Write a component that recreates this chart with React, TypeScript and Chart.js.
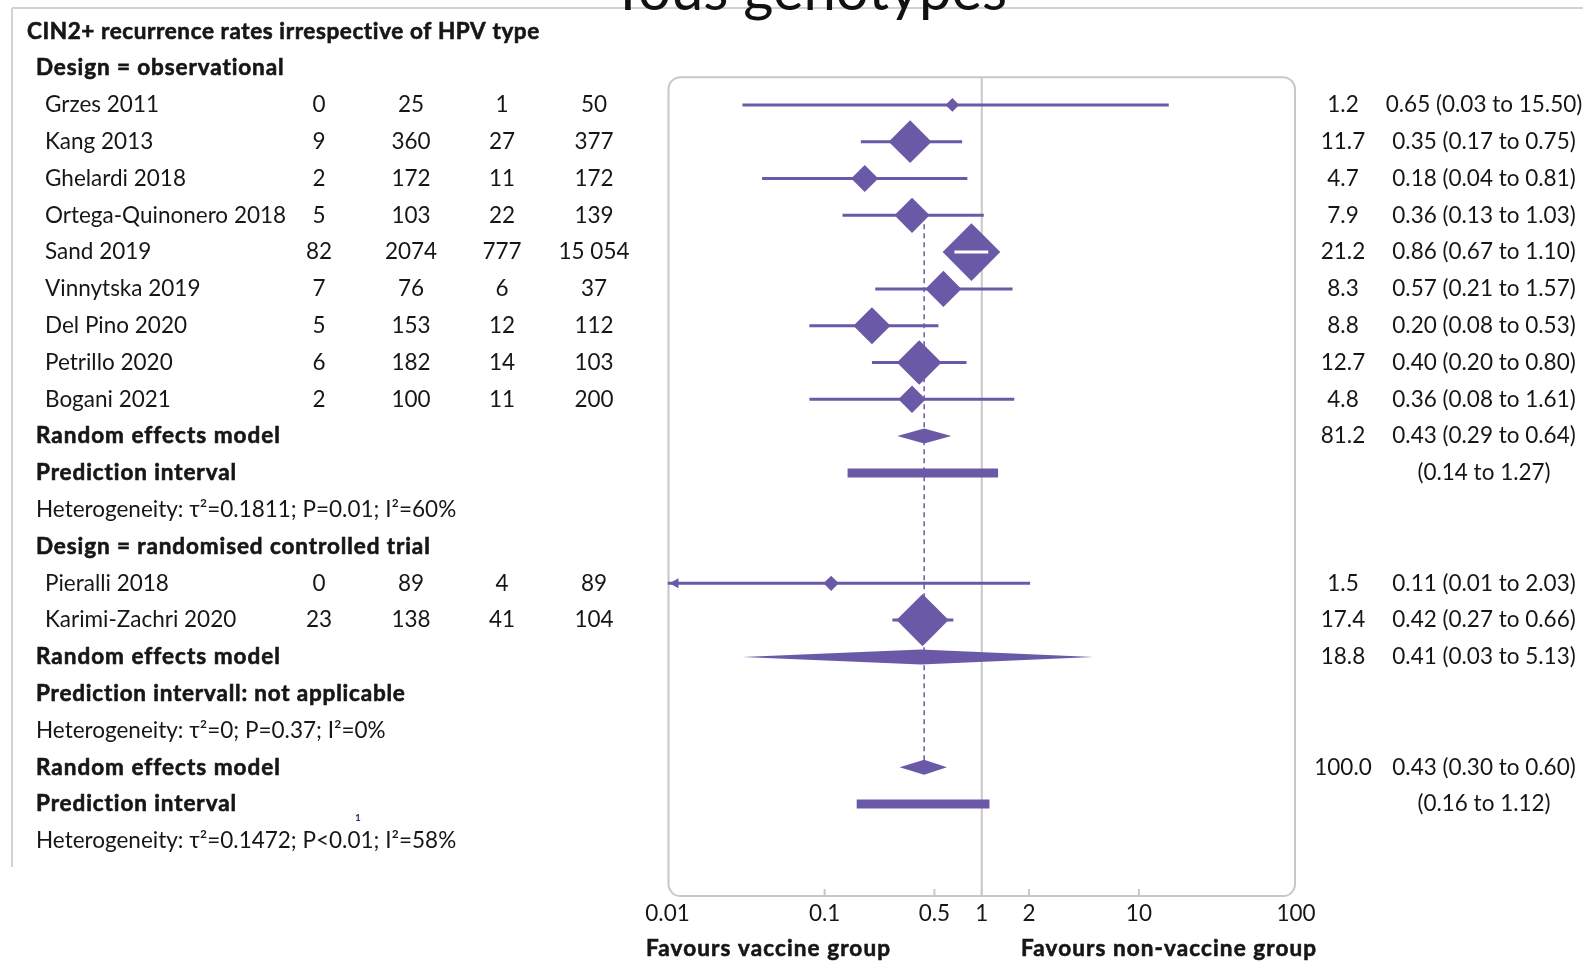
import React, { useEffect, useRef } from "react";
import { Chart, registerables } from "chart.js";

Chart.register(...registerables);

const W = 1583;
const H = 969;

// ---------- text / data ----------
const SLIDE_TITLE = "Tous génotypes";
const PANEL_TITLE = "CIN2+ recurrence rates irrespective of HPV type";
const obsHeader = "Design = observational";
const rctHeader = "Design = randomised controlled trial";
const pooledLabel = "Random effects model";
const piLabel = "Prediction interval";
const rctPILabel = "Prediction intervall: not applicable";

const obsStudies = [
  "Grzes 2011",
  "Kang 2013",
  "Ghelardi 2018",
  "Ortega-Quinonero 2018",
  "Sand 2019",
  "Vinnytska 2019",
  "Del Pino 2020",
  "Petrillo 2020",
  "Bogani 2021",
];
const obsEvVac = [0, 9, 2, 5, 82, 7, 5, 6, 2];
const obsNVac = [25, 360, 172, 103, 2074, 76, 153, 182, 100];
const obsEvNon = [1, 27, 11, 22, 777, 6, 12, 14, 11];
const obsNNon = [50, 377, 172, 139, 15054, 37, 112, 103, 200];
const obsWeight = [1.2, 11.7, 4.7, 7.9, 21.2, 8.3, 8.8, 12.7, 4.8];
const obsRR = [0.65, 0.35, 0.18, 0.36, 0.86, 0.57, 0.2, 0.4, 0.36];
const obsLo = [0.03, 0.17, 0.04, 0.13, 0.67, 0.21, 0.08, 0.2, 0.08];
const obsHi = [15.5, 0.75, 0.81, 1.03, 1.1, 1.57, 0.53, 0.8, 1.61];

const obsPooled = [0.43, 0.29, 0.64];
const obsPooledWeight = 81.2;
const obsPI = [0.14, 1.27];
const obsHet = "Heterogeneity: τ²=0.1811; P=0.01; I²=60%";

const rctStudies = ["Pieralli 2018", "Karimi-Zachri 2020"];
const rctEvVac = [0, 23];
const rctNVac = [89, 138];
const rctEvNon = [4, 41];
const rctNNon = [89, 104];
const rctWeight = [1.5, 17.4];
const rctRR = [0.11, 0.42];
const rctLo = [0.01, 0.27];
const rctHi = [2.03, 0.66];

const rctPooled = [0.41, 0.03, 5.13];
const rctPooledWeight = 18.8;
const rctHet = "Heterogeneity: τ²=0; P=0.37; I²=0%";

const allPooled = [0.43, 0.3, 0.6];
const allPooledWeight = 100.0;
const allPI = [0.16, 1.12];
const allHet = "Heterogeneity: τ²=0.1472; P<0.01; I²=58%";

const dashedFromStudy = "Ortega-Quinonero 2018";

const xTicks = [0.01, 0.1, 0.5, 1, 2, 10, 100];
const xTickLabels = ["0.01", "0.1", "0.5", "1", "2", "10", "100"];
const leftAxisLabel = "Favours vaccine group";
const rightAxisLabel = "Favours non-vaccine group";

// ---------- styles ----------
const PURPLE = "#6a59a7";
const TEXT = "#161616";
const GREY = "#c8c8c8";
const FONT = "Lato";
const FS = 22.5;

// ---------- build rows ----------
type Row = {
  kind: "title" | "header" | "study" | "pooled" | "pi" | "het" | "note";
  label: string;
  ev1?: number;
  n1?: number;
  ev2?: number;
  n2?: number;
  w?: number;
  est?: number;
  lo?: number;
  hi?: number;
};

const rows: Row[] = [];
rows.push({ kind: "title", label: PANEL_TITLE });
rows.push({ kind: "header", label: obsHeader });
obsStudies.forEach((s, i) =>
  rows.push({
    kind: "study",
    label: s,
    ev1: obsEvVac[i],
    n1: obsNVac[i],
    ev2: obsEvNon[i],
    n2: obsNNon[i],
    w: obsWeight[i],
    est: obsRR[i],
    lo: obsLo[i],
    hi: obsHi[i],
  })
);
rows.push({ kind: "pooled", label: pooledLabel, w: obsPooledWeight, est: obsPooled[0], lo: obsPooled[1], hi: obsPooled[2] });
rows.push({ kind: "pi", label: piLabel, lo: obsPI[0], hi: obsPI[1] });
rows.push({ kind: "het", label: obsHet });
rows.push({ kind: "header", label: rctHeader });
rctStudies.forEach((s, i) =>
  rows.push({
    kind: "study",
    label: s,
    ev1: rctEvVac[i],
    n1: rctNVac[i],
    ev2: rctEvNon[i],
    n2: rctNNon[i],
    w: rctWeight[i],
    est: rctRR[i],
    lo: rctLo[i],
    hi: rctHi[i],
  })
);
rows.push({ kind: "pooled", label: pooledLabel, w: rctPooledWeight, est: rctPooled[0], lo: rctPooled[1], hi: rctPooled[2] });
rows.push({ kind: "note", label: rctPILabel });
rows.push({ kind: "het", label: rctHet });
rows.push({ kind: "pooled", label: pooledLabel, w: allPooledWeight, est: allPooled[0], lo: allPooled[1], hi: allPooled[2] });
rows.push({ kind: "pi", label: piLabel, lo: allPI[0], hi: allPI[1] });
rows.push({ kind: "het", label: allHet });

const Y_MIN = 1.25;
const Y_MAX = 23.5;
const X_MIN = 0.01;
const X_MAX = 100;

const studyRows = rows.map((r, i) => ({ r, i })).filter((o) => o.r.kind === "study");
const pooledRows = rows.map((r, i) => ({ r, i })).filter((o) => o.r.kind === "pooled");
const piRows = rows.map((r, i) => ({ r, i })).filter((o) => o.r.kind === "pi");
const dashedStart = rows.findIndex((r) => r.label === dashedFromStudy);
const dashedEnd = rows.length - 3;

const radiusFor = (w: number) => 6.26 * Math.sqrt(w);

const fmtN = (n: number) => (n >= 10000 ? String(n).replace(/(\d)(?=(\d{3})+$)/g, "$1 ") : String(n));
const fmtCI = (r: Row) =>
  r.est !== undefined
    ? `${r.est.toFixed(2)} (${r.lo!.toFixed(2)} to ${r.hi!.toFixed(2)})`
    : `(${r.lo!.toFixed(2)} to ${r.hi!.toFixed(2)})`;

function text(
  ctx: CanvasRenderingContext2D,
  s: string,
  x: number,
  y: number,
  align: CanvasTextAlign,
  bold = false,
  size = FS,
  color = TEXT,
  spacing = 0.9
) {
  ctx.font = `${bold ? "bold " : ""}${size}px ${FONT}`;
  ctx.fillStyle = color;
  ctx.textAlign = align;
  ctx.textBaseline = "middle";
  (ctx as any).letterSpacing = bold && size > 15 ? `${spacing}px` : "0px";
  ctx.fillText(s, x, y);
  if (bold && size > 15) {
    ctx.strokeStyle = color;
    ctx.lineWidth = 0.6;
    ctx.strokeText(s, x, y);
  }
  (ctx as any).letterSpacing = "0px";
}

const forestPlugin = {
  id: "forest",
  beforeDraw(chart: any) {
    const ctx: CanvasRenderingContext2D = chart.ctx;
    ctx.save();
    ctx.fillStyle = "#ffffff";
    ctx.fillRect(0, 0, chart.width, chart.height);
    // slide frame lines
    ctx.strokeStyle = "#d2d2d2";
    ctx.lineWidth = 2;
    ctx.beginPath();
    ctx.moveTo(12, 8);
    ctx.lineTo(chart.width, 8);
    ctx.moveTo(12, 8);
    ctx.lineTo(12, 867);
    ctx.stroke();
    // slide title (cut off at top)
    ctx.font = `58px ${FONT}`;
    ctx.fillStyle = "#111";
    ctx.textAlign = "center";
    ctx.textBaseline = "alphabetic";
    ctx.fillText(SLIDE_TITLE, 809, 10);
    // rounded plot box
    const a = chart.chartArea;
    const rad = 12;
    ctx.strokeStyle = GREY;
    ctx.lineWidth = 2;
    ctx.beginPath();
    ctx.roundRect(a.left + 1, a.top, a.right - a.left - 2, a.bottom - a.top, rad);
    ctx.stroke();
    // tick marks inside bottom border
    const xs = chart.scales.x;
    ctx.beginPath();
    xTicks.forEach((v) => {
      if (v === X_MIN || v === X_MAX) return;
      const px = xs.getPixelForValue(v);
      ctx.moveTo(px, a.bottom);
      ctx.lineTo(px, a.bottom - 7);
    });
    ctx.stroke();
    ctx.restore();
  },
  afterDatasetsDraw(chart: any) {
    const ctx: CanvasRenderingContext2D = chart.ctx;
    const xs = chart.scales.x;
    const ys = chart.scales.y;
    ctx.save();
    // pooled diamonds
    ctx.fillStyle = PURPLE;
    pooledRows.forEach(({ r, i }) => {
      const y = ys.getPixelForValue(i);
      const xl = xs.getPixelForValue(r.lo);
      const xe = xs.getPixelForValue(r.est);
      const xh = xs.getPixelForValue(r.hi);
      const h = 7.5;
      ctx.beginPath();
      ctx.moveTo(xl, y);
      ctx.lineTo(xe, y - h);
      ctx.lineTo(xh, y);
      ctx.lineTo(xe, y + h);
      ctx.closePath();
      ctx.fill();
    });
    // white CI inside boxes and arrows for clipped CIs
    studyRows.forEach(({ r, i }) => {
      const y = ys.getPixelForValue(i);
      const xl = xs.getPixelForValue(r.lo);
      const xe = xs.getPixelForValue(r.est);
      const xh = xs.getPixelForValue(r.hi);
      const rr = radiusFor(r.w!);
      if (xe - xl < rr * 0.9 && xh - xe < rr * 0.9) {
        ctx.strokeStyle = "#ffffff";
        ctx.lineWidth = 3;
        ctx.beginPath();
        ctx.moveTo(xl, y);
        ctx.lineTo(xh, y);
        ctx.stroke();
      }
      if (r.lo! <= X_MIN) {
        ctx.fillStyle = PURPLE;
        ctx.beginPath();
        ctx.moveTo(xl + 2, y);
        ctx.lineTo(xl + 11, y - 5);
        ctx.lineTo(xl + 11, y + 5);
        ctx.closePath();
        ctx.fill();
      }
    });
    ctx.restore();
  },
  afterDraw(chart: any) {
    const ctx: CanvasRenderingContext2D = chart.ctx;
    const ys = chart.scales.y;
    ctx.save();
    rows.forEach((r, i) => {
      const y = ys.getPixelForValue(i);
      switch (r.kind) {
        case "title":
          text(ctx, r.label, 27, y, "left", true, FS, TEXT, 0.6);
          break;
        case "header":
          text(ctx, r.label, 36, y, "left", true);
          break;
        case "study":
          text(ctx, r.label, 45, y, "left");
          text(ctx, fmtN(r.ev1!), 319, y, "center");
          text(ctx, fmtN(r.n1!), 411, y, "center");
          text(ctx, fmtN(r.ev2!), 502, y, "center");
          text(ctx, fmtN(r.n2!), 594, y, "center");
          text(ctx, r.w!.toFixed(1), 1343, y, "center");
          text(ctx, fmtCI(r), 1484, y, "center");
          break;
        case "pooled":
          text(ctx, r.label, 36, y, "left", true, FS, TEXT, 1.0);
          text(ctx, r.w!.toFixed(1), 1343, y, "center");
          text(ctx, fmtCI(r), 1484, y, "center");
          break;
        case "pi":
          text(ctx, r.label, 36, y, "left", true);
          text(ctx, fmtCI(r), 1484, y, "center");
          break;
        case "note":
          text(ctx, r.label, 36, y, "left", true, FS, TEXT, 0.8);
          break;
        case "het":
          text(ctx, r.label, 36, y, "left");
          break;
      }
    });
    // small footnote mark
    text(ctx, "1", 358, 818, "center", true, 10, "#1f3a6e");
    // axis titles
    const yb = chart.chartArea.bottom + 53;
    text(ctx, leftAxisLabel, 646, yb, "left", true, FS, TEXT, 1.1);
    text(ctx, rightAxisLabel, 1021, yb, "left", true, FS, TEXT, 1.1);
    ctx.restore();
  },
};

export default function App() {
  const ref = useRef<HTMLCanvasElement>(null);
  useEffect(() => {
    const canvas = ref.current!;
    Chart.defaults.font.family = FONT;

    const whiskerSets = studyRows.map(({ r, i }) => ({
      type: "line",
      label: "CI " + r.label,
      data: [
        { x: r.lo, y: i },
        { x: r.hi, y: i },
      ],
      borderColor: PURPLE,
      borderWidth: 3,
      borderCapStyle: "butt",
      pointRadius: 0,
      order: 9,
    }));
    const piSets = piRows.map(({ r, i }) => ({
      type: "line",
      label: "PI " + i,
      data: [
        { x: r.lo, y: i },
        { x: r.hi, y: i },
      ],
      borderColor: PURPLE,
      borderWidth: 9,
      borderCapStyle: "butt",
      pointRadius: 0,
      order: 7,
    }));
    const pointData = studyRows.map(({ r, i }) => ({ x: r.est, y: i }));
    const pointWeights = studyRows.map(({ r }) => r.w!);

    const chart = new Chart(canvas, {
      type: "scatter",
      data: {
        datasets: [
          {
            type: "scatter",
            label: "Studies",
            data: pointData,
            pointStyle: "rectRot",
            pointRadius: (c: any) => radiusFor(pointWeights[c.dataIndex] ?? 1),
            backgroundColor: PURPLE,
            borderWidth: 0,
            order: 5,
          } as any,
          ...(piSets as any[]),
          {
            type: "line",
            label: "Overall",
            data: [
              { x: allPooled[0], y: dashedStart },
              { x: allPooled[0], y: dashedEnd },
            ],
            borderColor: PURPLE,
            borderWidth: 1.5,
            borderDash: [5, 4],
            pointRadius: 0,
            order: 8,
          } as any,
          ...(whiskerSets as any[]),
          {
            type: "line",
            label: "No effect",
            data: [
              { x: 1, y: Y_MIN },
              { x: 1, y: Y_MAX },
            ],
            borderColor: GREY,
            borderWidth: 2,
            pointRadius: 0,
            order: 10,
          } as any,
        ],
      },
      options: {
        animation: false,
        responsive: false,
        devicePixelRatio: 1,
        layout: { padding: { left: 667.5, right: 287, top: 77.3, bottom: 0 } },
        plugins: { legend: { display: false }, tooltip: { enabled: false }, title: { display: false } },
        scales: {
          x: {
            type: "logarithmic",
            min: X_MIN,
            max: X_MAX,
            afterBuildTicks: (s: any) => {
              s.ticks = xTicks.map((v) => ({ value: v }));
            },
            afterFit: (s: any) => {
              s.height = 72.9;
            },
            ticks: {
              autoSkip: false,
              maxRotation: 0,
              padding: 4,
              color: TEXT,
              font: { family: FONT, size: FS },
              callback: (_v: any, idx: number) => xTickLabels[idx],
            },
            grid: { display: false, drawTicks: false },
            border: { display: false },
          },
          y: {
            type: "linear",
            reverse: true,
            min: Y_MIN,
            max: Y_MAX,
            display: false,
          },
        },
      } as any,
      plugins: [forestPlugin as any],
    });
    return () => chart.destroy();
  }, []);

  return (
    <div style={{ position: "absolute", left: 0, top: 0, width: W, height: H, background: "#fff" }}>
      <canvas ref={ref} width={W} height={H} style={{ display: "block", width: W, height: H }} />
    </div>
  );
}
